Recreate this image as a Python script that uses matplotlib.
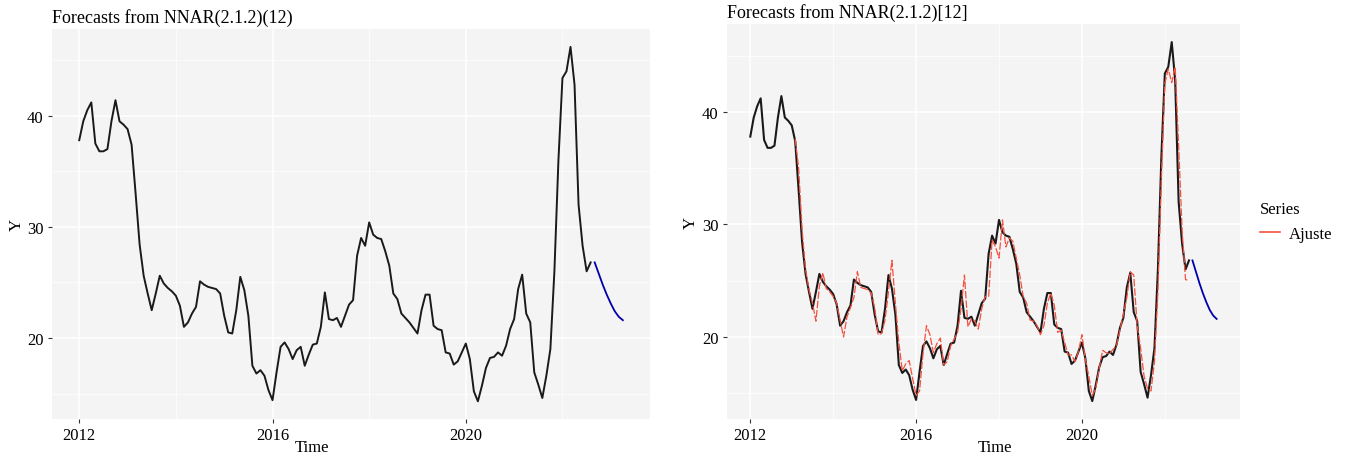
import matplotlib
matplotlib.use("Agg")
import matplotlib.pyplot as plt
import numpy as np
from matplotlib.lines import Line2D
from matplotlib.ticker import FixedLocator


START_YEAR = 2012

# monthly series, Jan 2012 onwards
observed = [
    37.8, 39.5, 40.5, 41.2, 37.5, 36.8, 36.8, 37.0, 39.5, 41.4, 39.5, 39.2,
    38.8, 37.4, 33.0, 28.4, 25.6, 24.0, 22.5, 24.0, 25.6, 24.9, 24.5, 24.2,
    23.8, 22.9, 21.0, 21.4, 22.2, 22.8, 25.1, 24.8, 24.6, 24.5, 24.4, 24.0,
    22.0, 20.5, 20.4, 22.5, 25.5, 24.3, 22.0, 17.5, 16.8, 17.1, 16.6, 15.3,
    14.4, 16.9, 19.2, 19.6, 19.0, 18.1, 18.9, 19.2, 17.5, 18.5, 19.4, 19.5,
    21.0, 24.1, 21.7, 21.6, 21.8, 21.0, 22.0, 23.0, 23.4, 27.4, 29.0, 28.3,
    30.4, 29.3, 29.0, 28.9, 27.8, 26.5, 24.0, 23.5, 22.2, 21.8, 21.4, 20.9,
    20.4, 22.5, 23.9, 23.9, 21.1, 20.8, 20.7, 18.7, 18.6, 17.6, 17.9, 18.7,
    19.5, 18.1, 15.2, 14.3, 15.7, 17.3, 18.2, 18.3, 18.7, 18.4, 19.3, 20.8,
    21.7, 24.4, 25.7, 22.2, 21.4, 16.9, 15.8, 14.6, 16.6, 19.0, 26.0, 36.0,
    43.4, 44.0, 46.2, 42.8, 32.0, 28.3, 26.0, 26.8,
]

# NNAR forecast, continues right after the last observation
forecast = [26.8, 25.8, 24.8, 23.9, 23.1, 22.4, 21.9, 21.6]

# fitted values ("Ajuste"), first one at month 13
fitted_start = 13
fitted = [
    37.6, 35.0, 29.5, 26.0, 24.2, 23.0, 21.4, 24.5, 25.7, 24.3, 24.0,
    23.6, 23.0, 21.5, 20.0, 21.8, 22.6, 23.5, 25.8, 24.4, 24.3, 24.2, 23.9,
    22.6, 20.2, 20.3, 21.5, 24.0, 26.8, 23.0, 19.5, 17.0, 17.6, 17.9, 16.3,
    14.8, 15.2, 18.5, 21.0, 20.2, 18.6, 19.4, 19.9, 17.5, 17.8, 19.2, 19.8,
    20.4, 22.5, 25.5, 20.9, 21.6, 21.4, 20.7, 22.5, 23.6, 23.6, 28.6, 28.0,
    27.0, 30.4, 28.0, 28.8, 28.5, 27.0, 25.5, 23.6, 23.0, 21.5, 21.4, 21.0,
    20.2, 21.0, 23.0, 23.9, 22.8, 20.4, 20.6, 19.5, 18.4, 18.4, 17.8, 18.7,
    20.2, 18.0, 16.5, 14.8, 15.4, 17.2, 18.8, 18.6, 18.5, 18.9, 19.2, 20.6,
    22.0, 23.5, 25.8, 25.5, 21.0, 19.0, 16.5, 15.4, 15.2, 17.8, 24.0, 34.0,
    42.5, 43.8, 42.6, 44.0, 37.0, 29.5, 25.1, 25.0,
]

x_ticks = [2012, 2016, 2020]
x_minor = [2014, 2018, 2022]
y_ticks = [20, 30, 40]
y_minor = [15, 25, 35, 45]

left_title = "Forecasts from NNAR(2.1.2)(12)"
right_title = "Forecasts from NNAR(2.1.2)[12]"

plt.rcParams["font.family"] = ["Liberation Serif", "DejaVu Serif"]

PANEL_BG = "#F4F4F4"
BLACK = "#1a1a1a"
BLUE = "#0000AA"
RED = "#F4503F"


def _time(offset, n):
    return START_YEAR + (offset + np.arange(n)) / 12.0


def _style(ax, title, time_x):
    ax.set_facecolor(PANEL_BG)
    for side in ax.spines.values():
        side.set_visible(False)
    ax.margins(x=0.05, y=0.05)
    ax.xaxis.set_major_locator(FixedLocator(x_ticks))
    ax.xaxis.set_minor_locator(FixedLocator(x_minor))
    ax.yaxis.set_major_locator(FixedLocator(y_ticks))
    ax.yaxis.set_minor_locator(FixedLocator(y_minor))
    ax.grid(True, which="major", color="white", linewidth=1.1)
    ax.grid(True, which="minor", color="white", linewidth=0.5)
    ax.set_axisbelow(True)
    ax.tick_params(which="major", length=3, width=0.8, color="#333333",
                   labelsize=12, pad=3)
    ax.tick_params(which="minor", length=0)
    ax.set_title(title, loc="left", fontsize=13, pad=5)
    ax.set_xlabel("Time", fontsize=12)
    ax.set_ylabel("Y", fontsize=12, labelpad=2)
    ax.xaxis.set_label_coords(time_x, -0.05)


fig = plt.figure(figsize=(13.45, 4.56), dpi=100)
ax1 = fig.add_axes([0.0387, 0.0789, 0.4446, 0.855])
ax2 = fig.add_axes([0.5405, 0.0789, 0.3814, 0.866])

t_obs = _time(0, len(observed))
t_fc = _time(len(observed), len(forecast))
t_fit = _time(fitted_start, len(fitted))

ax1.plot(t_obs, observed, color=BLACK, linewidth=1.4)
ax1.plot(t_fc, forecast, color=BLUE, linewidth=1.3)
_style(ax1, left_title, 0.435)

ax2.plot(t_obs, observed, color=BLACK, linewidth=1.5)
ax2.plot(t_fit, fitted, color=RED, linewidth=0.9, linestyle=(0, (6, 1.5)))
ax2.plot(t_fc, forecast, color=BLUE, linewidth=1.3)
_style(ax2, right_title, 0.522)

handle = Line2D([], [], color=RED, linewidth=1.2)
leg = ax2.legend([handle], ["Ajuste"], title="Series", loc="center left",
                 bbox_to_anchor=(1.01, 0.5), frameon=False, fontsize=12,
                 title_fontsize=12, handlelength=1.2, handletextpad=0.5,
                 alignment="left")

fig.savefig("out.png", dpi=100)
